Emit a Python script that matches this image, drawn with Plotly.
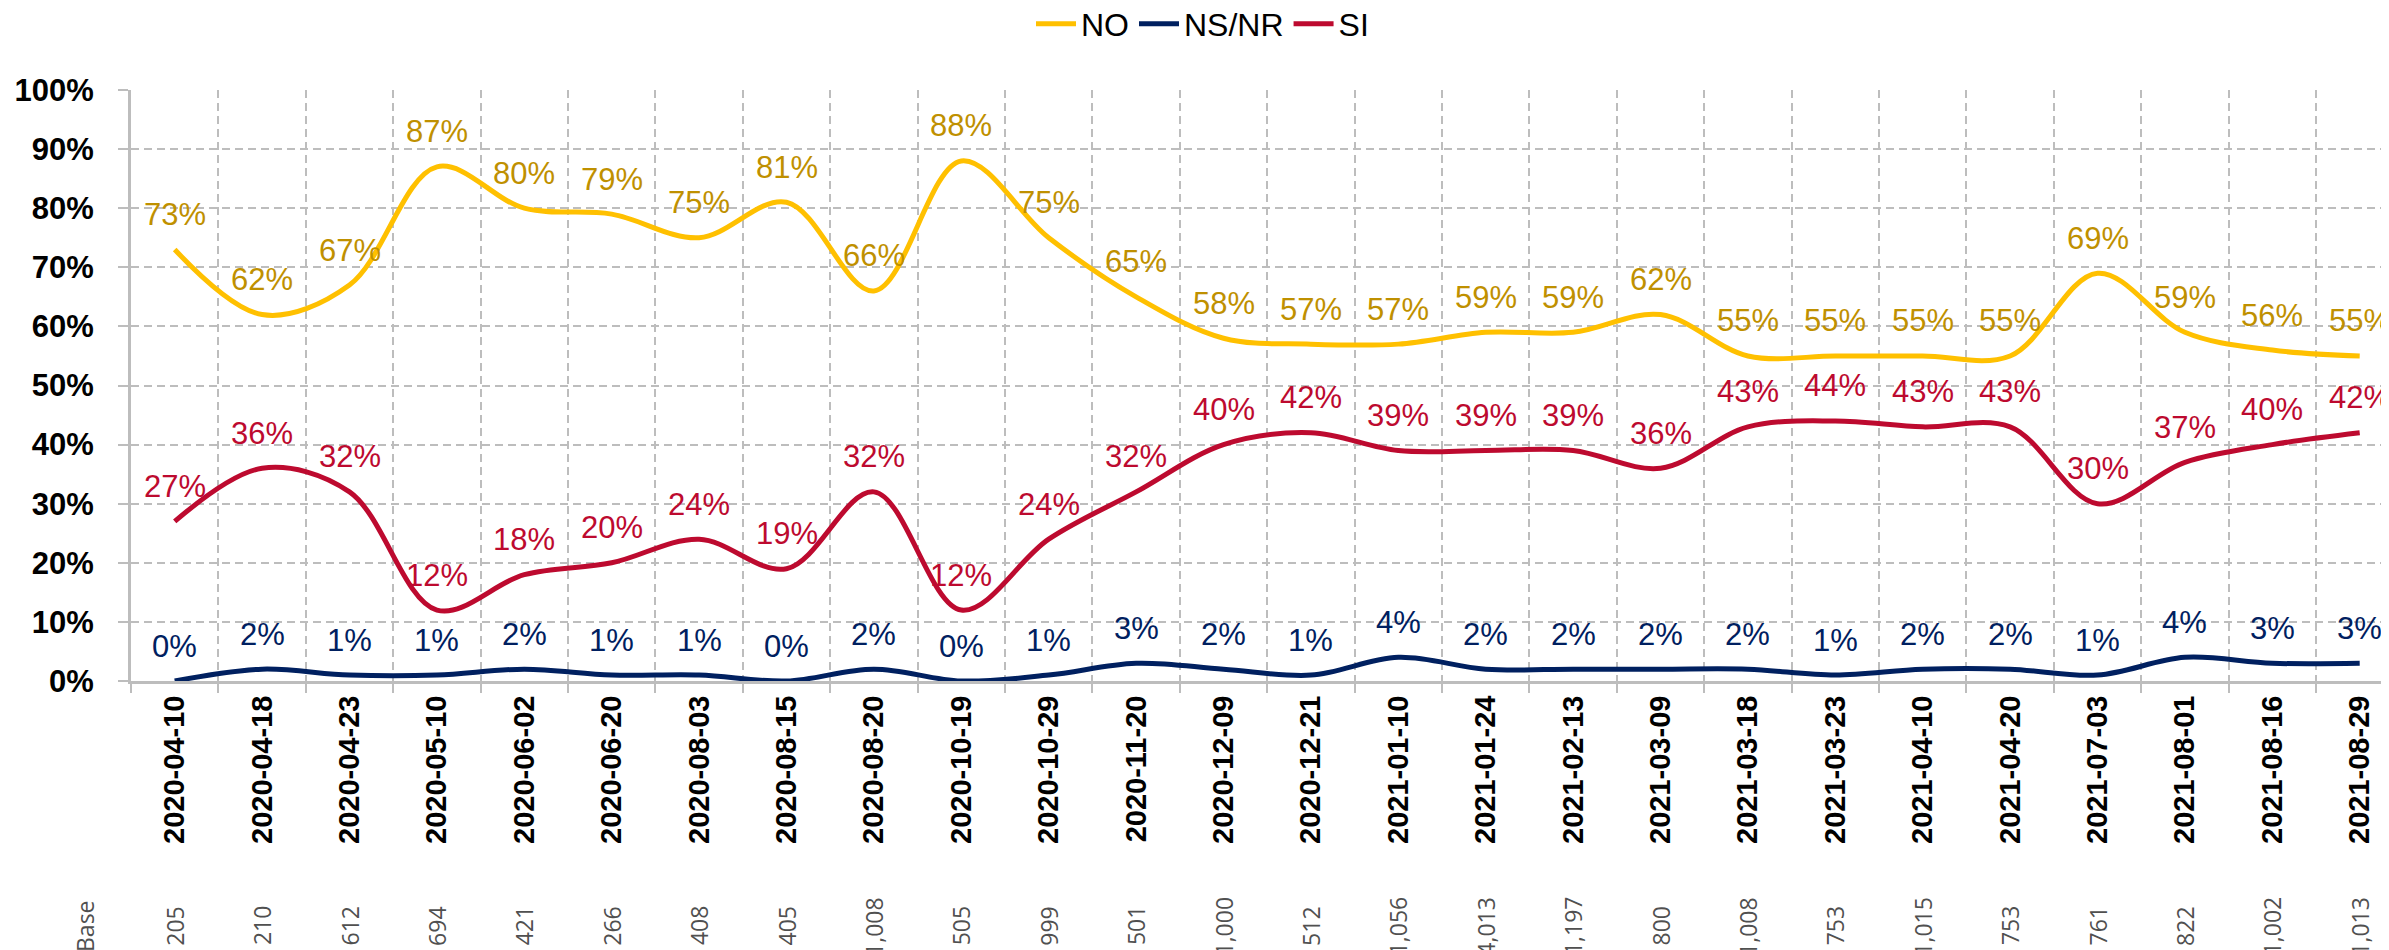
import plotly.graph_objects as go

dates = ["2020-04-10", "2020-04-18", "2020-04-23", "2020-05-10", "2020-06-02", "2020-06-20",
         "2020-08-03", "2020-08-15", "2020-08-20", "2020-10-19", "2020-10-29", "2020-11-20",
         "2020-12-09", "2020-12-21", "2021-01-10", "2021-01-24", "2021-02-13", "2021-03-09",
         "2021-03-18", "2021-03-23", "2021-04-10", "2021-04-20", "2021-07-03", "2021-08-01",
         "2021-08-16", "2021-08-29"]
no_vals = [73, 62, 67, 87, 80, 79, 75, 81, 66, 88, 75, 65, 58, 57, 57, 59, 59, 62, 55, 55, 55, 55, 69, 59, 56, 55]
nsnr_vals = [0, 2, 1, 1, 2, 1, 1, 0, 2, 0, 1, 3, 2, 1, 4, 2, 2, 2, 2, 1, 2, 2, 1, 4, 3, 3]
si_vals = [27, 36, 32, 12, 18, 20, 24, 19, 32, 12, 24, 32, 40, 42, 39, 39, 39, 36, 43, 44, 43, 43, 30, 37, 40, 42]
base_vals = [205, 210, 612, 694, 421, 266, 408, 405, 1008, 505, 999, 501, 1000, 512, 1056, 4013,
             1197, 800, 1008, 753, 1015, 753, 761, 822, 1002, 1013]
y_ticks = [0, 10, 20, 30, 40, 50, 60, 70, 80, 90, 100]

series = [
    ("NO", no_vals, "#FFC000", "#BF9000"),
    ("NS/NR", nsnr_vals, "#002060", "#002060"),
    ("SI", si_vals, "#BD0A2F", "#BD0A2F"),
]

FONT = "Liberation Sans, Arial, sans-serif"
W, H = 2389, 950
L, T, B = 123, 82, 277
plot_h = H - T - B

fig = go.Figure()
for name, vals, lc, tc in series:
    fig.add_trace(go.Scatter(
        x=dates, y=vals, name=name, mode="lines",
        line=dict(color=lc, width=5, shape="spline", smoothing=1.0),
        hoverinfo="skip",
    ))
    for d, v in zip(dates, vals):
        fig.add_annotation(x=d, y=v, xref="x", yref="y", text=f"{v}%",
                           showarrow=False, yshift=35, xanchor="center", yanchor="middle",
                           font=dict(family=FONT, size=31, color=tc))

# Base row
base_font = dict(family="Open Sans, DejaVu Sans, sans-serif", size=23, color="#505050")
base_y = (T + plot_h - 918) / plot_h
fig.add_annotation(x=(77 - L) / (W - L), y=base_y, xref="paper", yref="paper",
                   text="Base", textangle=-90, showarrow=False, xanchor="center", yanchor="middle",
                   font=base_font)
for d, b in zip(dates, base_vals):
    fig.add_annotation(x=d, y=base_y, xref="x", yref="paper",
                       text=f"{b:,}", textangle=-90, showarrow=False, xanchor="center", yanchor="middle",
                       font=base_font)

grid_c = "#BDBDBD"
fig.update_layout(
    width=W, height=H,
    margin=dict(l=L, r=0, t=T, b=B, pad=0),
    paper_bgcolor="white", plot_bgcolor="white",
    font=dict(family=FONT, color="black"),
    showlegend=True,
    legend=dict(orientation="h", xref="container", yref="container", x=0.5, xanchor="center",
                y=(H - 16) / H, yanchor="middle", font=dict(size=32, family=FONT, color="black"),
                tracegroupgap=0, bgcolor="rgba(0,0,0,0)", itemwidth=40),
    xaxis=dict(type="category", range=[-0.5, -0.5 + (W - L) / 87.4],
               tickson="boundaries", showgrid=True, gridcolor=grid_c, gridwidth=2, griddash="8px,5px",
               ticks="outside", ticklen=9, tickcolor=grid_c, tickwidth=2,
               showline=True, linecolor=grid_c, linewidth=3,
               tickangle=-90, tickfont=dict(family=FONT, size=29, color="black", weight="bold"),
               zeroline=False, fixedrange=True),
    yaxis=dict(range=[0, 100], tickvals=y_ticks, ticktext=[f"{t}%" for t in y_ticks],
               showgrid=True, gridcolor=grid_c, gridwidth=2, griddash="8px,5px",
               ticks="outside", ticklen=10, tickcolor=grid_c, tickwidth=2,
               showline=True, linecolor=grid_c, linewidth=3, zeroline=False,
               ticklabelstandoff=18,
               tickfont=dict(family=FONT, size=31, color="black", weight="bold"), fixedrange=True),
)

fig.write_html("out.html", config={"displayModeBar": False})
